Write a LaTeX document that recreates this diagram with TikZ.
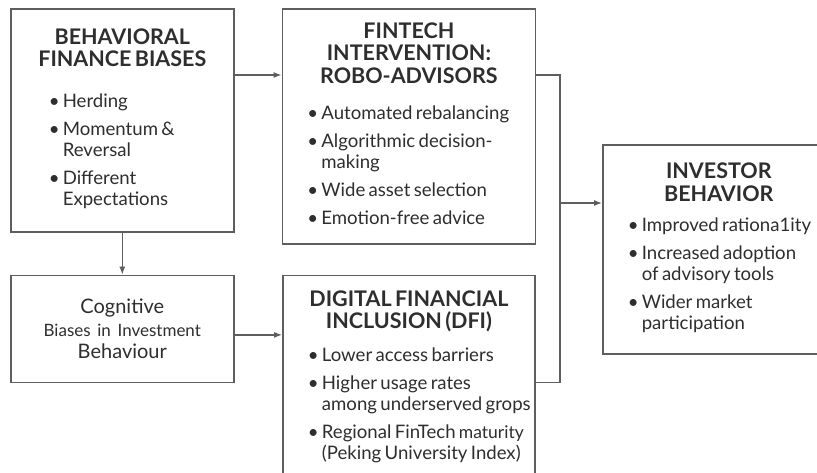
\documentclass[tikz,border=0pt]{standalone}
\usepackage{fontspec}
\setmainfont{Lato}
\usepackage{xcolor}
\usepackage{tikz}
\usetikzlibrary{positioning}
\usetikzlibrary{arrows.meta}
\tikzset{>=stealth}

\definecolor{inkgrey}{HTML}{2E2E2E}
\definecolor{edgegrey}{HTML}{5E5E5E}

\tikzstyle{line} = [draw, edgegrey, line width=1.3pt, -{Latex[length=8pt,width=6pt]}]
\tikzstyle{link} = [draw, edgegrey, line width=1.3pt]
\tikzstyle{block} = [draw=edgegrey, line width=1.6pt, rectangle, fill=white,
  text=inkgrey, inner xsep=10pt, inner ysep=0pt, align=left, anchor=north west]

\newlength{\listindent}
\newcommand{\blocktitle}[1]{{\centering\fontsize{21.5}{22.5}\selectfont\bfseries #1\par}}
% one bullet, lines broken by hand with \\
\newcommand{\bitem}[1]{\par\hspace*{\listindent}\makebox[14pt][l]{\textbullet}%
  \begin{tabular}[t]{@{}l@{}}#1\end{tabular}}
\newcommand{\bodyfont}{\fontsize{18.6}{21}\selectfont\setlength{\parskip}{7pt}\lineskip=0pt}

\begin{document}
\begin{tikzpicture}[x=1pt, y=-1pt]
    \useasboundingbox (0,0) rectangle (817,472);
    \fill[white] (0,0) rectangle (817,472);
    \clip (0,0) rectangle (817,472);
    %% Blocks
    \node [block, text width=203pt, minimum height=223pt] (bfb) at (10,8) {%
      \blocktitle{BEHAVIORAL\\FINANCE BIASES}\vspace{13pt}
      {\bodyfont\setlength{\listindent}{28pt}%
       \bitem{Herding}\bitem{Momentum \&\\Reversal}\bitem{Different\\Expectations}\par}};
    \node [block, below=42pt of bfb, text width=203pt, minimum height=107pt, align=center,
      font=\fontsize{20}{22.5}\selectfont] (cog) {%
      Cognitive\\
      {\fontsize{17}{22.5}\selectfont Biases in Investment}\\
      Behaviour};
    \node [block, right=47pt of bfb.north east, anchor=north west, text width=233pt, minimum height=235pt] (robo) {%
      \blocktitle{FINTECH\\INTERVENTION:\\ROBO-ADVISORS}\vspace{8pt}
      {\bodyfont\setlength{\listindent}{15pt}%
       \bitem{Automated rebalancing}\bitem{Algorithmic decision-\\making}%
       \bitem{Wide asset selection}\bitem{Emotion-free advice}\par}};
    \node [block, below=30pt of robo, text width=232pt, minimum height=206pt] (dfi) {%
      \blocktitle{DIGITAL FINANCIAL\\INCLUSION (DFI)}\vspace{5pt}
      {\bodyfont\setlength{\listindent}{15pt}%
       \bitem{Lower access barriers}\bitem{Higher usage rates\\among underserved grops}%
       \bitem{Regional FinTech {\fontsize{17.5}{21}\selectfont maturity}\\(Peking University Index)}\par}};
    \node [block, text width=212pt, minimum height=209pt] (inv) at (602,144) {%
      \blocktitle{INVESTOR\\BEHAVIOR}\vspace{2pt}
      {\bodyfont\setlength{\listindent}{15pt}%
       \bitem{Improved rationa1ity}\bitem{Increased adoption\\of advisory tools}%
       \bitem{Wider market\\participation}\par}};
    \coordinate (join) at (560,203);
    %% Flows
    \path [line] ([yshift=-67pt]bfb.north east) -- ([yshift=-67pt]robo.north west);
    \path [line] (bfb.south) -- (cog.north);
    \path [line] ([yshift=-6pt]cog.east) -- ([yshift=-6pt]cog.east -| dfi.west);
    \path [link] ([yshift=-67pt]robo.north east) -| (join);
    \path [link] ([yshift=-4pt]dfi.east) -| (join);
    \path [line] (join) -- (join -| inv.west);
\end{tikzpicture}
\end{document}
